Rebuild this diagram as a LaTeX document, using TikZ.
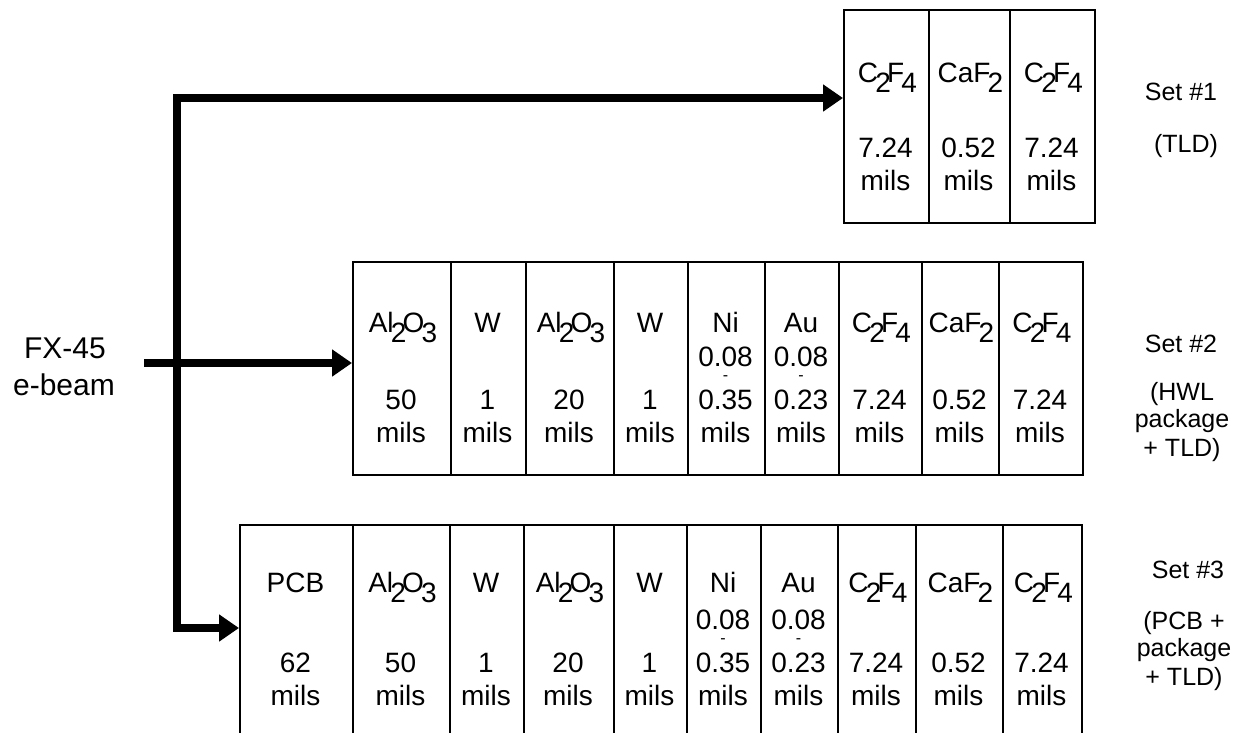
\documentclass[tikz,border=0pt]{standalone}
\usepackage{fontspec}
\setmainfont{Liberation Sans}
\usetikzlibrary{arrows.meta}
\newcommand\sbs[1]{\kern-0.1em\raisebox{-0.36em}{#1}\kern-0.14em}
% one layer: name, x1, x2, top, bottom, formula offset, formula, value
\newcommand\layer[8]{%
  \node[cell, minimum width={(#3)-(#2)}, minimum height={(#5)-(#4)}] (#1) at (#2,#4) {};
  \node[txt] (#1f) at ({((#2)+(#3))/2},{(#4)+(#6)}) {#7};
  \node[txt] (#1v) at ({((#2)+(#3))/2},{(#4)+148}) {#8};
  \node[txt] (#1m) at ({((#2)+(#3))/2},{(#4)+181}) {mils};}
% layer with a thickness range: name, x1, x2, top, bottom, formula offset, formula, low, high
\newcommand\rlayer[9]{%
  \node[cell, minimum width={(#3)-(#2)}, minimum height={(#5)-(#4)}] (#1) at (#2,#4) {};
  \node[txt] (#1f) at ({((#2)+(#3))/2},{(#4)+(#6)}) {#7};
  \node[txt] (#1l) at ({((#2)+(#3))/2},{(#4)+105}) {#8};
  \node[dashmark] (#1d) at ({((#2)+(#3))/2},{(#4)+117}) {-};
  \node[txt] (#1v) at ({((#2)+(#3))/2},{(#4)+148}) {#9};
  \node[txt] (#1m) at ({((#2)+(#3))/2},{(#4)+181}) {mils};}
\begin{document}
\begin{tikzpicture}[x=1pt,y=-1pt,
  cell/.style={draw, line width=1.6pt, inner sep=0pt, anchor=north west},
  txt/.style={anchor=base, inner sep=0pt, font=\fontsize{28}{30}\selectfont},
  lab/.style={anchor=base, inner sep=0pt, font=\fontsize{25}{27}\selectfont},
  srclab/.style={anchor=base, inner sep=0pt, font=\fontsize{30}{32}\selectfont},
  dashmark/.style={inner sep=0pt, font=\fontsize{16}{16}\selectfont},
  beam/.style={line width=8pt, line join=miter},
  tipend/.style={-{Triangle[length=20pt,width=26pt]}},
  tipboth/.style={{Triangle[length=20pt,width=26pt]}-{Triangle[length=20pt,width=26pt]}}]
\useasboundingbox (0,0) rectangle (1245,732);
\clip (0,0) rectangle (1245,732);

% Set 1
\layer{a1}{843}{928}{9}{222}{73}{C\sbs{2}F\sbs{4}}{7.24}
\layer{a2}{928}{1009}{9}{222}{73}{CaF\sbs{2}}{0.52}
\layer{a3}{1009}{1094}{9}{222}{73}{C\sbs{2}F\sbs{4}}{7.24}

% Set 2
\layer{b1}{352}{450}{261}{474}{71}{Al\sbs{2}O\sbs{3}}{50}
\layer{b2}{450}{525}{261}{474}{71}{W}{1}
\layer{b3}{525}{613}{261}{474}{71}{Al\sbs{2}O\sbs{3}}{20}
\layer{b4}{613}{687}{261}{474}{71}{W}{1}
\rlayer{b5}{687}{764}{261}{474}{71}{Ni}{0.08}{0.35}
\rlayer{b6}{764}{838}{261}{474}{71}{Au}{0.08}{0.23}
\layer{b7}{838}{921}{261}{474}{71}{C\sbs{2}F\sbs{4}}{7.24}
\layer{b8}{921}{998}{261}{474}{71}{CaF\sbs{2}}{0.52}
\layer{b9}{998}{1082}{261}{474}{71}{C\sbs{2}F\sbs{4}}{7.24}

% Set 3
\layer{c1}{239}{352}{524}{770}{68}{PCB}{62}
\layer{c2}{352}{449}{524}{770}{68}{Al\sbs{2}O\sbs{3}}{50}
\layer{c3}{449}{523}{524}{770}{68}{W}{1}
\layer{c4}{523}{613}{524}{770}{68}{Al\sbs{2}O\sbs{3}}{20}
\layer{c5}{613}{686}{524}{770}{68}{W}{1}
\rlayer{c6}{686}{760}{524}{770}{68}{Ni}{0.08}{0.35}
\rlayer{c7}{760}{837}{524}{770}{68}{Au}{0.08}{0.23}
\layer{c8}{837}{915}{524}{770}{68}{C\sbs{2}F\sbs{4}}{7.24}
\layer{c9}{915}{1002}{524}{770}{68}{CaF\sbs{2}}{0.52}
\layer{c10}{1002}{1081}{524}{770}{68}{C\sbs{2}F\sbs{4}}{7.24}

% set labels
\node[lab] (l1a) at (1181,100) {Set \#1};
\node[lab] (l1b) at (1186,152) {(TLD)};
\node[lab] (l2a) at (1181,352) {Set \#2};
\node[lab] (l2b) at (1182,400) {(HWL};
\node[lab] (l2c) at (1182,427) {package};
\node[lab] (l2d) at (1182,456) {+ TLD)};
\node[lab] (l3a) at (1188,578) {Set \#3};
\node[lab] (l3b) at (1184,629) {(PCB +};
\node[lab] (l3c) at (1184,656) {package};
\node[lab] (l3d) at (1184,685) {+ TLD)};

% source
\node[srclab] (src1) at (65,358) {FX-45};
\node[srclab] (src2) at (64,395) {e-beam};

% beams
\coordinate (bs) at (144,363);
\coordinate (jt) at (177,98);
\coordinate (jb) at (177,628);
\draw[beam, tipend] (bs) -- (bs -| b1.west);
\draw[beam, tipboth] (jt -| a1.west) -- (jt) -- (jb) -- (jb -| c1.west);
\end{tikzpicture}
\end{document}
